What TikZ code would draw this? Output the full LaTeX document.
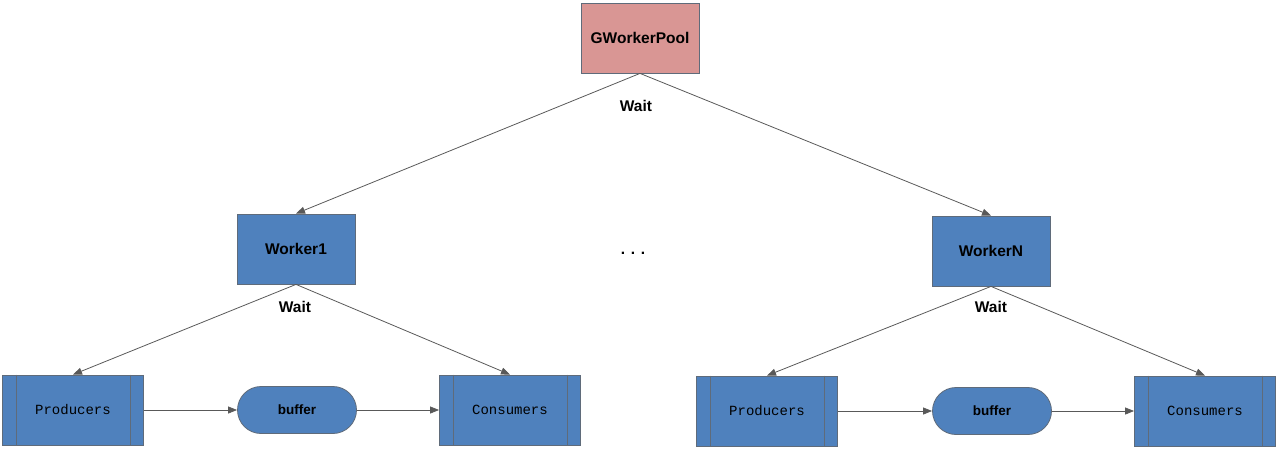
\documentclass[tikz,border=0pt]{standalone}
\usepackage{fontspec}
\setmainfont{Liberation Sans}
\newfontfamily\monofnt{Liberation Mono}
\usetikzlibrary{arrows.meta,shapes.misc}
\definecolor{boxblue}{HTML}{4F81BD}
\definecolor{boxpink}{HTML}{D99694}
\definecolor{edgegray}{HTML}{595959}
\definecolor{bordergray}{HTML}{5F6B7A}
\begin{document}
\begin{tikzpicture}[x=1pt,y=-1pt,
  base/.style={draw=bordergray,line width=0.8pt,inner sep=0pt},
  worker/.style={base,rectangle,fill=boxblue,minimum width=118pt,minimum height=70pt,font=\fontsize{15.5}{17}\selectfont\bfseries},
  pool/.style={worker,fill=boxpink},
  proc/.style={base,rectangle,fill=boxblue,minimum width=141pt,minimum height=70pt,font=\fontsize{14}{16}\selectfont\monofnt},
  buf/.style={base,rounded rectangle,fill=boxblue,minimum width=119pt,minimum height=47pt,font=\fontsize{13.5}{15}\selectfont\bfseries},
  conn/.style={draw=edgegray,line width=0.8pt,-{Triangle[length=9pt,width=7pt]}},
  lbl/.style={font=\fontsize{15.5}{17}\selectfont\bfseries,inner sep=0pt}
]
\useasboundingbox (0,0) rectangle (1280,450);

\node[pool] (gp) at (640,38) {GWorkerPool};
\node[worker] (w1) at (296,249) {Worker1};
\node[worker] (wn) at (991,251) {WorkerN};

\node[proc] (p1) at (73,410) {Producers};
\node[buf] (b1) at (297,410) {buffer};
\node[proc] (c1) at (510,410) {Consumers};

\node[proc] (p2) at (767,411) {Producers};
\node[buf] (b2) at (992,411) {buffer};
\node[proc] (c2) at (1205,411) {Consumers};

\foreach \n in {p1,c1,p2,c2}{
  \draw[bordergray,line width=0.8pt] ([xshift=14pt]\n.north west) -- ([xshift=14pt]\n.south west);
  \draw[bordergray,line width=0.8pt] ([xshift=-14pt]\n.north east) -- ([xshift=-14pt]\n.south east);
}

\node[lbl] (wt0) at (636,106) {Wait};
\node[lbl] (wt1) at (295,307) {Wait};
\node[lbl] (wt2) at (991,307) {Wait};
\node[lbl] (dots) at (633,253) {. . .};

\draw[conn] (gp.south) -- (w1.north);
\draw[conn] (gp.south) -- (wn.north);
\draw[conn] (w1.south) -- (p1.north);
\draw[conn] (w1.south) -- (c1.north);
\draw[conn] (wn.south) -- (p2.north);
\draw[conn] (wn.south) -- (c2.north);
\draw[conn] (p1.east) -- (b1.west);
\draw[conn] (b1.east) -- (c1.west);
\draw[conn] (p2.east) -- (b2.west);
\draw[conn] (b2.east) -- (c2.west);
\end{tikzpicture}
\end{document}
